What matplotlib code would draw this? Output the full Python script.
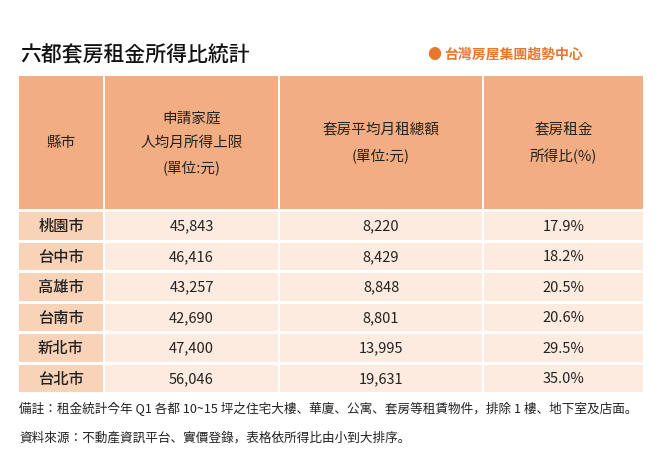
import matplotlib
matplotlib.use("Agg")
import matplotlib.pyplot as plt
from matplotlib.patches import Rectangle

plt.rcParams["font.family"] = ["Noto Sans CJK TC", "Noto Sans CJK JP", "Noto Sans CJK SC", "DejaVu Sans"]

title = "六都套房租金所得比統計"
logo = "台灣房屋集團趨勢中心"
headers = ["縣市", "申請家庭\n人均月所得上限\n(單位:元)", "套房平均月租總額\n(單位:元)", "套房租金\n所得比(%)"]
cities = ["桃園市", "台中市", "高雄市", "台南市", "新北市", "台北市"]
income = [45843, 46416, 43257, 42690, 47400, 56046]
rent = [8220, 8429, 8848, 8801, 13995, 19631]
ratio = [17.9, 18.2, 20.5, 20.6, 29.5, 35.0]
note1 = "備註：租金統計今年 Q1 各都 10~15 坪之住宅大樓、華廈、公寓、套房等租賃物件，排除 1 樓、地下室及店面。"
note2 = "資料來源：不動產資訊平台、實價登錄，表格依所得比由小到大排序。"

W, H = 659, 477
fig = plt.figure(figsize=(W/100, H/100), dpi=100)
ax = fig.add_axes([0, 0, 1, 1])
ax.set_xlim(0, W); ax.set_ylim(H, 0); ax.axis("off")

cols = [(19, 103), (105, 278), (280, 482), (484, 643)]
hdr = (77, 210)
row_top, row_h, gap = 213, 27.5, 3.0
hc, fc, bc = "#F2AE82", "#F8D3B8", "#FDEBDF"

ax.text(20, 55, title, fontsize=15, va="center", ha="left", color="#111", fontweight="medium")
ax.text(427, 55, "●", fontsize=10, color="#E8772E", va="center", ha="left")
ax.text(444, 55, logo, fontsize=10, color="#E8772E", va="center", ha="left", fontweight="bold")

for (x0, x1), h in zip(cols, headers):
    ax.add_patch(Rectangle((x0, hdr[0]), x1-x0, hdr[1]-hdr[0], color=hc, lw=0))
    ax.text((x0+x1)/2, (hdr[0]+hdr[1])/2, h, ha="center", va="center", fontsize=10.5,
            linespacing=1.9, color="#222")

for i, c in enumerate(cities):
    y0 = row_top + i*(row_h+gap)
    vals = [c, f"{income[i]:,}", f"{rent[i]:,}", f"{ratio[i]:.1f}%"]
    for j, ((x0, x1), v) in enumerate(zip(cols, vals)):
        ax.add_patch(Rectangle((x0, y0), x1-x0, row_h, color=fc if j == 0 else bc, lw=0))
        ax.text((x0+x1)/2, y0+row_h/2, v, ha="center", va="center",
                fontsize=11 if j == 0 else 10.5, color="#222",
                fontweight="medium" if j == 0 else "normal")

ax.text(19, 409, note1, fontsize=9.1, va="center", ha="left", color="#222")
ax.text(19, 438, note2, fontsize=9.1, va="center", ha="left", color="#222")

fig.savefig("out.png", dpi=100, facecolor="white")
